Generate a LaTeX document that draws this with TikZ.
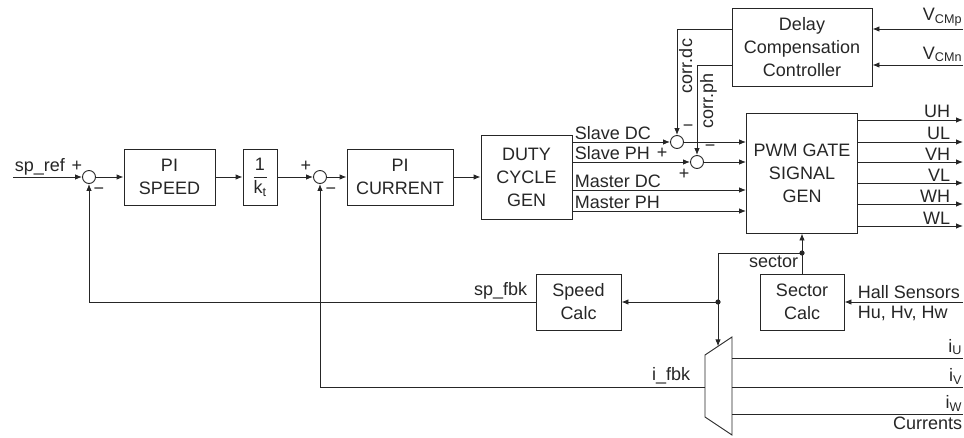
\documentclass[tikz,border=0pt]{standalone}
\usepackage{amsmath}
\usepackage{fontspec}
\setmainfont{Liberation Sans}
\usetikzlibrary{arrows.meta,calc,positioning}

\tikzset{
  block/.style={draw, align=center, inner sep=2pt},
  sumjn/.style={draw, circle, minimum size=13pt, inner sep=0pt},
  sig/.style={-{Latex[length=7pt,width=5.5pt]}},
  lbl/.style={inner sep=1.5pt},
}

\begin{document}
\begin{tikzpicture}[x=1pt,y=-1pt,line width=0.9pt,color=black!85,
    font=\fontsize{18}{23}\selectfont]
  \useasboundingbox (0,0) rectangle (964,437);

  % Blocks of the speed and current loops
  \node[block, minimum width=91pt, minimum height=56pt] (pispeed) at (169.5,177) {PI\\SPEED};
  \node[block, minimum width=34pt, minimum height=56pt] (kt) at (260,177) {$\dfrac{\text{1}}{\text{k}_\text{t}}$};
  \node[block, minimum width=106pt, minimum height=56pt] (picur) at (400,177) {PI\\CURRENT};
  \node[block, minimum width=91pt, minimum height=84pt] (duty) at (526.5,177) {DUTY\\CYCLE\\GEN};
  \node[block, minimum width=111pt, minimum height=120pt] (pwm) at (802,173) {PWM GATE\\SIGNAL\\GEN};
  \node[block, minimum width=140pt, minimum height=78pt] (delay) at (802,47) {Delay\\Compensation\\Controller};
  \node[block, minimum width=85pt, minimum height=56pt] (speed) at (578.5,302) {Speed\\Calc};
  \node[block, minimum width=84pt, minimum height=56pt] (sector) at (802,302) {Sector\\Calc};

  % Summing junctions
  \node[sumjn] (sum1) at (89,177) {};
  \node[sumjn] (sum2) at (320,177) {};
  \node[sumjn] (sum3) at (677,142) {};
  \node[sumjn] (sum4) at (697,162) {};

  % Free ends and branch points
  \coordinate (spref) at (13,177);
  \coordinate (vcmp) at (963,29);
  \coordinate (vcmn) at (963,65);
  \coordinate (mdc) at (0,190);
  \coordinate (mph) at (0,211);
  \coordinate (ouh) at (963,120);
  \coordinate (oul) at (963,142);
  \coordinate (ovh) at (963,162);
  \coordinate (ovl) at (963,183);
  \coordinate (owh) at (963,204);
  \coordinate (owl) at (963,226);
  \coordinate (secdot) at (802,253);
  \coordinate (spdot) at (718,302);
  \coordinate (hall) at (963,302);
  \coordinate (iu) at (963,358);
  \coordinate (iv) at (963,387);
  \coordinate (iw) at (963,414);

  % Current multiplexer
  \coordinate (muxtl) at (705,355);
  \coordinate (muxbl) at (705,417);
  \coordinate (muxtr) at (732,337);
  \coordinate (muxbr) at (732,435);
  \coordinate (muxin) at ($(muxtl)!13/27!(muxtr)$);
  \coordinate (muxout) at (705,387);
  \draw (muxtl) -- (muxtr) -- (muxbr) -- (muxbl) -- cycle;

  % Forward path
  \draw[sig] (spref) -- (sum1);
  \draw[sig] (sum1) -- (pispeed);
  \draw[sig] (pispeed) -- (kt);
  \draw[sig] (kt) -- (sum2);
  \draw[sig] (sum2) -- (picur);
  \draw[sig] (picur) -- (duty);
  \draw[sig] (duty.east |- sum3) -- (sum3);
  \draw[sig] (sum3) -- (pwm.west |- sum3);
  \draw[sig] (duty.east |- sum4) -- (sum4);
  \draw[sig] (sum4) -- (pwm.west |- sum4);
  \draw[sig] (duty.east |- mdc) -- (pwm.west |- mdc);
  \draw[sig] (duty.east |- mph) -- (pwm.west |- mph);

  % Delay compensation
  \draw[sig] (vcmp) -- (delay.east |- vcmp);
  \draw[sig] (vcmn) -- (delay.east |- vcmn);
  \draw[sig] (delay.west |- vcmp) -| (sum3);
  \draw[sig] (delay.west |- vcmn) -| (sum4);

  % Gate outputs
  \draw[sig] (pwm.east |- ouh) -- (ouh);
  \draw[sig] (pwm.east |- oul) -- (oul);
  \draw[sig] (pwm.east |- ovh) -- (ovh);
  \draw[sig] (pwm.east |- ovl) -- (ovl);
  \draw[sig] (pwm.east |- owh) -- (owh);
  \draw[sig] (pwm.east |- owl) -- (owl);

  % Sector and feedback paths
  \draw[sig] (hall) -- (sector);
  \draw[sig] (sector) -- (pwm);
  \draw[sig] (secdot) -| (muxin);
  \draw[sig] (spdot) -- (speed);
  \draw[sig] (speed) -| (sum1);
  \draw[sig] (muxout) -| (sum2);
  \fill (secdot) circle (2.6);
  \fill (spdot) circle (2.6);
  \draw (iu -| muxtr) -- (iu);
  \draw (iv -| muxtr) -- (iv);
  \draw (iw -| muxtr) -- (iw);

  % Signs
  \node[lbl] at (77,166) {+};
  \node[lbl] at (99,191) {−};
  \node[lbl] at (306,166) {+};
  \node[lbl] at (331,191) {−};
  \node[lbl] at (688,128) {−};
  \node[lbl] at (662,153) {+};
  \node[lbl] at (710,148) {−};
  \node[lbl] at (684,174) {+};

  % Signal labels
  \node[lbl, above right] at (spref) {sp\_ref};
  \node[lbl, above right] at (573,142) {Slave DC};
  \node[lbl, above right] at (573,162) {Slave PH};
  \node[lbl, above right] at (573,190) {Master DC};
  \node[lbl, above right] at (573,211) {Master PH};
  \node[lbl, rotate=90, anchor=north] at (677,66) {corr.dc};
  \node[lbl, rotate=90, anchor=north] at (698,101) {corr.ph};
  \node[lbl, above left] at (964,28) {V\textsubscript{CMp}};
  \node[lbl, above left] at (964,64) {V\textsubscript{CMn}};
  \node[lbl, above left] at (952,120) {UH};
  \node[lbl, above left] at (952,142) {UL};
  \node[lbl, above left] at (952,162) {VH};
  \node[lbl, above left] at (952,183) {VL};
  \node[lbl, above left] at (952,204) {WH};
  \node[lbl, above left] at (952,226) {WL};
  \node[lbl, below left] at (800,254) {sector};
  \node[lbl, above right] at (856,301) {Hall Sensors};
  \node[lbl, below right] at (856,304) {Hu, Hv, Hw};
  \node[lbl, above left] at (529,301) {sp\_fbk};
  \node[lbl, above left] at (692,386) {i\_fbk};
  \node[lbl, above left] at (964,357) {i\textsubscript{U}};
  \node[lbl, above left] at (964,386) {i\textsubscript{V}};
  \node[lbl, above left] at (964,413) {i\textsubscript{W}};
  \node[lbl, below left] at (964,415) {Currents};
\end{tikzpicture}
\end{document}
